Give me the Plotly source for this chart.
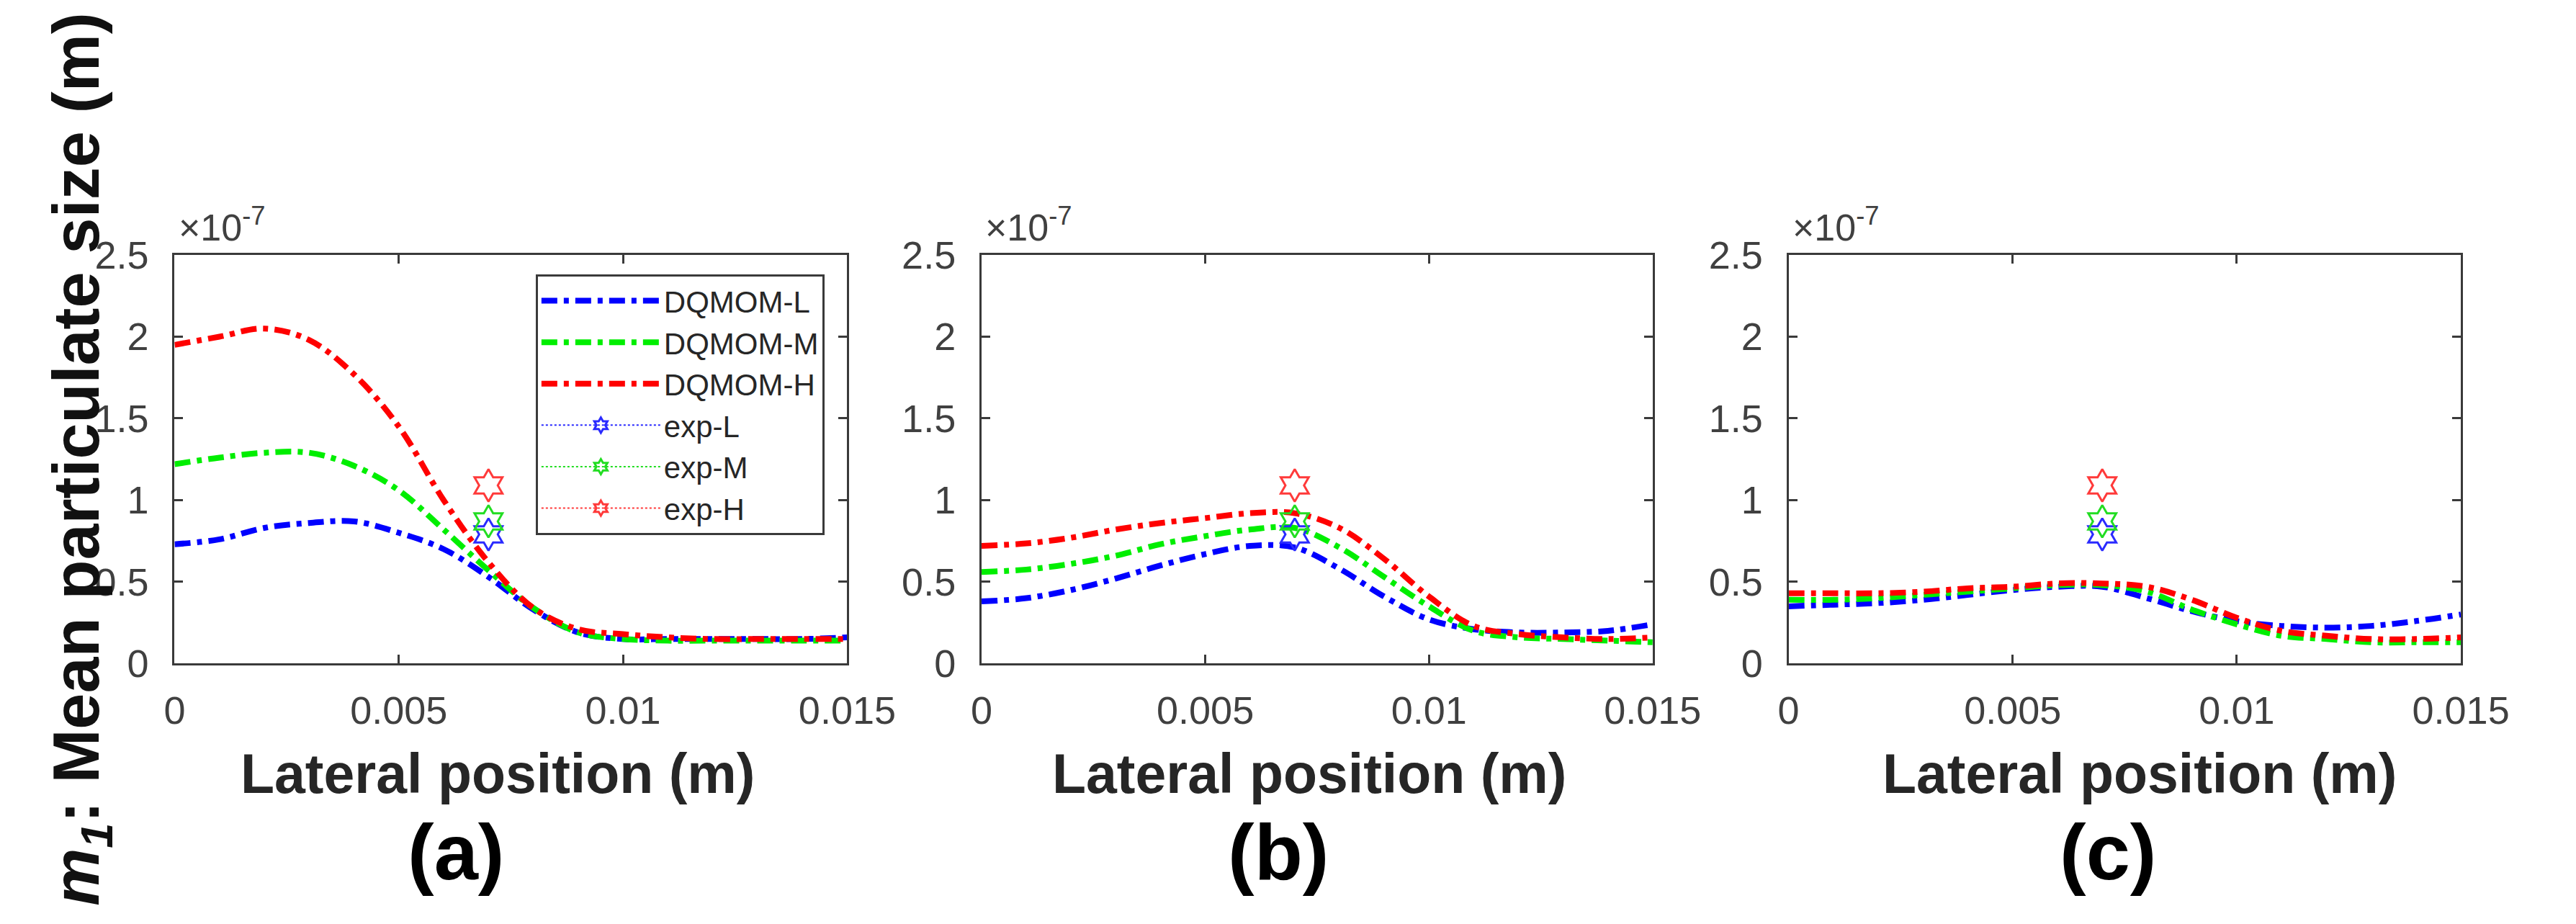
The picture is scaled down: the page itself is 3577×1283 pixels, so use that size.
import plotly.graph_objects as go

# lateral position (m) and mean particulate size (x 1e-7 m)
x_sim = [0, 0.001, 0.002, 0.003, 0.004, 0.005, 0.006, 0.007,
         0.008, 0.009, 0.010, 0.011, 0.012, 0.013, 0.014, 0.015]

a_L = [0.73, 0.76, 0.83, 0.86, 0.87, 0.80, 0.70, 0.53, 0.33, 0.19, 0.15, 0.15, 0.15, 0.15, 0.15, 0.16]
a_M = [1.22, 1.26, 1.29, 1.29, 1.21, 1.06, 0.82, 0.57, 0.34, 0.19, 0.15, 0.14, 0.14, 0.14, 0.14, 0.14]
a_H = [1.95, 2.00, 2.05, 1.98, 1.77, 1.45, 1.00, 0.62, 0.34, 0.21, 0.18, 0.16, 0.15, 0.15, 0.15, 0.15]

b_L = [0.38, 0.40, 0.45, 0.52, 0.60, 0.67, 0.72, 0.71, 0.58, 0.41, 0.27, 0.21, 0.19, 0.19, 0.20, 0.24]
b_M = [0.56, 0.575, 0.61, 0.66, 0.73, 0.78, 0.82, 0.83, 0.71, 0.53, 0.35, 0.20, 0.16, 0.15, 0.14, 0.13]
b_H = [0.72, 0.735, 0.77, 0.82, 0.86, 0.89, 0.92, 0.92, 0.83, 0.64, 0.41, 0.23, 0.18, 0.16, 0.15, 0.16]

c_L = [0.35, 0.36, 0.37, 0.39, 0.42, 0.45, 0.47, 0.47, 0.40, 0.32, 0.26, 0.23, 0.22, 0.23, 0.26, 0.30]
c_M = [0.39, 0.39, 0.40, 0.42, 0.44, 0.46, 0.48, 0.48, 0.44, 0.33, 0.24, 0.17, 0.15, 0.13, 0.13, 0.13]
c_H = [0.43, 0.43, 0.43, 0.44, 0.46, 0.47, 0.49, 0.49, 0.47, 0.39, 0.28, 0.20, 0.17, 0.15, 0.15, 0.16]

x_exp = [0.007]
exp_L = [0.79]
exp_M = [0.87]
exp_H = [1.09]

sim_names = ["DQMOM-L", "DQMOM-M", "DQMOM-H"]
exp_names = ["exp-L", "exp-M", "exp-H"]
colors = ["#0000ff", "#00ee00", "#ff0000"]
exp_colors = ["#2a2aff", "#22dd22", "#ff3a3a"]
panel_labels = ["(a)", "(b)", "(c)"]

x_ticks = [0, 0.005, 0.01, 0.015]
x_ticktext = ["0", "0.005", "0.01", "0.015"]
y_ticks = [0, 0.5, 1, 1.5, 2, 2.5]
y_ticktext = ["0", "0.5", "1", "1.5", "2", "2.5"]

panels = [(a_L, a_M, a_H), (b_L, b_M, b_H), (c_L, c_M, c_H)]
exps = [exp_L, exp_M, exp_H]

FONT = "Liberation Sans, Arial, sans-serif"
axis_col = "#3a3a3a"
tick_col = "#404040"

x_domains = [[0.0651, 0.3324], [0.3858, 0.6525], [0.7065, 0.9737]]
y_domain = [0.2712, 0.7350]

fig = go.Figure()

for p, series in enumerate(panels):
    xa = "x" if p == 0 else "x%d" % (p + 1)
    ya = "y" if p == 0 else "y%d" % (p + 1)
    for i, ys in enumerate(series):
        fig.add_trace(go.Scatter(
            x=x_sim, y=ys, mode="lines", name=sim_names[i],
            line=dict(color=colors[i], width=8, dash="22px,9px,7px,9px",
                      shape="spline", smoothing=1.0),
            xaxis=xa, yaxis=ya, showlegend=(p == 0)))
    for i, ys in enumerate(exps):
        fig.add_trace(go.Scatter(
            x=x_exp, y=ys, mode="lines+markers", name=exp_names[i],
            line=dict(color=exp_colors[i], width=2, dash="dot"),
            marker=dict(symbol="hexagram-open", size=34, color=exp_colors[i],
                        line=dict(color=exp_colors[i], width=3)),
            xaxis=xa, yaxis=ya, showlegend=(p == 0)))

xaxis_style = dict(
    range=[0, 0.015], tickvals=x_ticks, ticktext=x_ticktext,
    ticks="inside", ticklen=12, tickwidth=3, tickcolor=axis_col,
    showline=True, linewidth=3, linecolor=axis_col, mirror="ticks",
    showgrid=False, zeroline=False, ticklabelstandoff=16,
    tickfont=dict(family=FONT, size=54, color=tick_col))
yaxis_style = dict(
    range=[0, 2.5], tickvals=y_ticks, ticktext=y_ticktext,
    ticks="inside", ticklen=12, tickwidth=3, tickcolor=axis_col,
    showline=True, linewidth=3, linecolor=axis_col, mirror="ticks",
    showgrid=False, zeroline=False, ticklabelstandoff=22,
    tickfont=dict(family=FONT, size=54, color=tick_col))

layout = dict(
    width=3577, height=1283,
    margin=dict(l=0, r=0, t=0, b=0),
    paper_bgcolor="white", plot_bgcolor="white",
    font=dict(family=FONT, color=tick_col),
    legend=dict(x=0.2086, y=0.7132, xanchor="left", yanchor="top",
                bgcolor="white", bordercolor=axis_col, borderwidth=3,
                font=dict(family=FONT, size=42, color="#262626"),
                itemwidth=165, tracegroupgap=0),
)
for p in range(3):
    sx = "" if p == 0 else str(p + 1)
    layout["xaxis" + sx] = dict(xaxis_style, domain=x_domains[p],
                                anchor="y" + sx)
    layout["yaxis" + sx] = dict(yaxis_style, domain=y_domain,
                                anchor="x" + sx)
fig.update_layout(**layout)

title_x = [692, 1846, 3026]
label_x = [633, 1802, 2981]
for p in range(3):
    # exponent label above each axis
    fig.add_annotation(text="\u00d710<sup>-7</sup>", xref="paper", yref="paper",
                       x=x_domains[p][0] + 0.001, y=0.741, xanchor="left",
                       yanchor="bottom", showarrow=False,
                       font=dict(family=FONT, size=52, color=tick_col))
    fig.add_annotation(text="<b>Lateral position (m)</b>", xref="paper", yref="paper",
                       x=title_x[p] / 3577, y=0.146, xanchor="center",
                       yanchor="middle", showarrow=False,
                       font=dict(family=FONT, size=77, color="#262626"))
    fig.add_annotation(text="<b>%s</b>" % panel_labels[p], xref="paper", yref="paper",
                       x=label_x[p] / 3577, y=0.058, xanchor="center",
                       yanchor="middle", showarrow=False,
                       font=dict(family=FONT, size=110, color="black"))

fig.add_annotation(text="<b><i>m</i><sub><i>1</i></sub>: Mean particulate size (m)</b>",
                   xref="paper", yref="paper", x=0.028, y=0.503,
                   xanchor="center", yanchor="middle", textangle=-90,
                   showarrow=False, font=dict(family=FONT, size=90, color="#111111"))

fig.write_html("out.html", config={"displayModeBar": False},
               post_script="document.body.style.margin='0px';document.body.style.overflow='hidden';")
